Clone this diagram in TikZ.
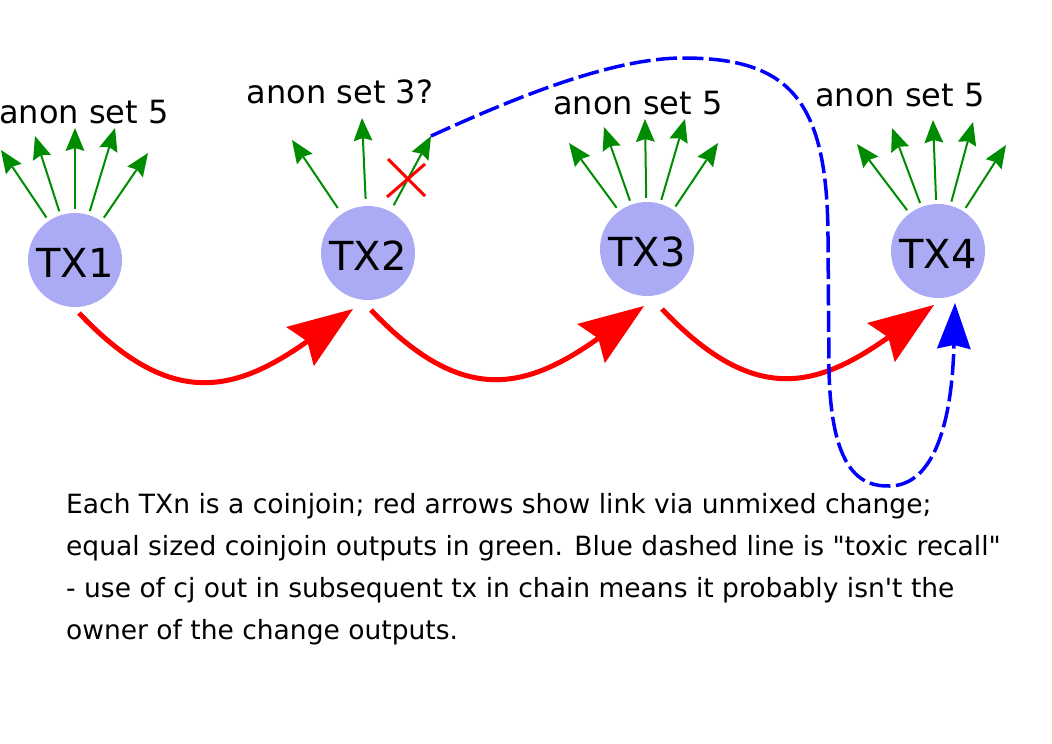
\documentclass[tikz,border=0pt]{standalone}
\usepackage{fontspec}
\setmainfont{DejaVu Sans}[Ligatures=TeXOff]
\usetikzlibrary{arrows.meta}
\definecolor{txfill}{RGB}{170,170,245}
\definecolor{outgreen}{RGB}{0,140,0}
\definecolor{linkred}{RGB}{255,0,0}
\definecolor{recallblue}{RGB}{0,0,255}
\newcommand\txlab[1]{\raisebox{-3pt}[\height][0pt]{#1}}
\begin{document}
\begin{tikzpicture}[x=1pt,y=-1pt,
  txnode/.style={circle,fill=txfill,minimum size=94pt,inner sep=0pt,font=\fontsize{40}{48}\selectfont},
  anonlab/.style={anchor=base,inner sep=0pt,font=\fontsize{32}{38}\selectfont},
  garrow/.style={draw=outgreen,line width=2pt,-{Stealth[length=23pt,width=19pt,inset=3pt,line width=0pt]},shorten <=4pt},
  redlink/.style={draw=linkred,line width=5pt,-{Stealth[length=65pt,width=48pt,inset=9pt,line width=0pt]}},
  recall/.style={draw=recallblue,line width=3.5pt,dash pattern=on 21pt off 5.5pt,-{Stealth[length=46pt,width=34pt,inset=4pt,line width=0pt]}},
  cross/.style={draw=linkred,line width=3pt},
  note/.style={anchor=base west,inner sep=0pt,align=left,font=\fontsize{26.5}{42}\selectfont}]
\useasboundingbox (0,0) rectangle (1052,744);

% transactions
\node[txnode] (tx1) at (75,260) {\txlab{TX1}};
\node[txnode] (tx2) at (368,253) {\txlab{TX2}};
\node[txnode] (tx3) at (647,249) {\txlab{TX3}};
\node[txnode] (tx4) at (938,251) {\txlab{TX4}};

% anon set labels
\node[anonlab] (l1) at (84,123) {anon set 5};
\node[anonlab] (l2) at (340,103) {anon set 3?};
\node[anonlab] (l3) at (638,114) {anon set 5};
\node[anonlab] (l4) at (900,106) {anon set 5};

% green output tips
\coordinate (g11) at (1,150);
\coordinate (g12) at (35,136);
\coordinate (g13) at (75,128);
\coordinate (g14) at (115,128);
\coordinate (g15) at (148,153);
\coordinate (g21) at (292,140);
\coordinate (g22) at (362,118);
\coordinate (g23) at (431,136);
\coordinate (g31) at (569,143);
\coordinate (g32) at (604,127);
\coordinate (g33) at (645,119);
\coordinate (g34) at (685,119);
\coordinate (g35) at (718,143);
\coordinate (g41) at (857,144);
\coordinate (g42) at (892,128);
\coordinate (g43) at (933,120);
\coordinate (g44) at (973,122);
\coordinate (g45) at (1006,145);

\foreach \k in {1,...,5} {\draw[garrow] (tx1) -- (g1\k);}
\foreach \k in {1,2,3} {\draw[garrow,shorten <=7pt] (tx2) -- (g2\k);}
\foreach \k in {1,...,5} {\draw[garrow] (tx3) -- (g3\k);}
\foreach \k in {1,...,5} {\draw[garrow] (tx4) -- (g4\k);}

% red cross on spent output
\draw[cross] (387,197) -- (425,164) (388,159) -- (425,196);

% red change links
\draw[redlink] ([shift={(4,53)}]tx1.center) .. controls +(90,95) and +(-120,85) .. ([shift={(-15,56)}]tx2.center);
\draw[redlink] ([shift={(3,57)}]tx2.center) .. controls +(90,95) and +(-120,85) .. ([shift={(-3,57)}]tx3.center);
\draw[redlink] ([shift={(15,60)}]tx3.center) .. controls +(90,95) and +(-120,85) .. ([shift={(-4,54)}]tx4.center);

% blue toxic recall
\coordinate (rec) at ([shift={(17,52)}]tx4.center);
\draw[recall] (g23) .. controls (510,100) and (610,58) .. (683,58)
  .. controls (790,58) and (828,100) .. (828,240) -- (829,370)
  .. controls (831,470) and (860,487) .. (890,486)
  .. controls (935,485) and (952,420) .. (rec);

% explanation
\node[note] (txt) at (66,639) {Each TXn is a coinjoin; red arrows show link via unmixed change;\\
equal sized coinjoin outputs in green. Blue dashed line is "toxic recall"\\
- use of cj out in subsequent tx in chain means it probably isn't the\\
owner of the change outputs.};
\end{tikzpicture}
\end{document}
